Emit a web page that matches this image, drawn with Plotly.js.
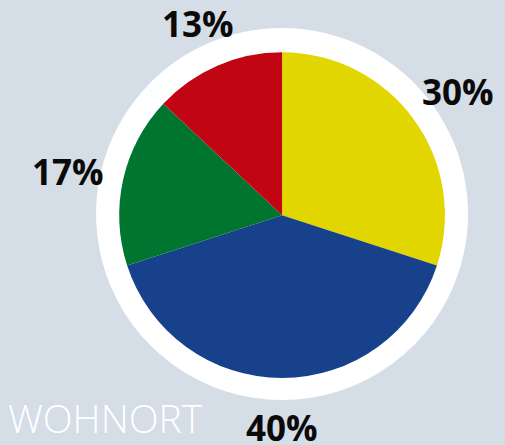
<!DOCTYPE html>
<html>
<head>
<meta charset="utf-8">
<script src="https://cdn.plot.ly/plotly-3.0.1.min.js"></script>
<style>
  html, body { margin: 0; padding: 0; background: #d5dde6; }
  #chart { width: 505px; height: 445px; }
</style>
</head>
<body>
<div id="chart"></div>
<script>
// shares by place of residence, clockwise from 12 o'clock
var categories = ['Gelb', 'Blau', 'Grün', 'Rot']
var shares = [30, 40, 17, 13]
var colors = ['#e2d600', '#17428b', '#00752f', '#c10512']
var chartTitle = 'WOHNORT'

var W = 505, H = 445
var ringDomain = { x: [0.190, 0.927], y: [0.101, 0.937] }
var pieDomain = { x: [0.236, 0.881], y: [0.148, 0.885] }

// white ring behind the pie
var ring = {
  type: 'pie',
  labels: categories,
  values: shares,
  sort: false,
  direction: 'clockwise',
  marker: { colors: categories.map(() => '#ffffff'), line: { width: 0 } },
  textinfo: 'none',
  hoverinfo: 'skip',
  showlegend: false,
  domain: ringDomain
}

var pie = {
  type: 'pie',
  labels: categories,
  values: shares,
  sort: false,
  direction: 'clockwise',
  marker: { colors: colors, line: { width: 0 } },
  textinfo: 'none',
  hoverinfo: 'label+percent',
  showlegend: false,
  domain: pieDomain
}

// percent labels sit outside the white ring, on each slice's middle angle
var cx = (pieDomain.x[0] + pieDomain.x[1]) / 2
var cy = (pieDomain.y[0] + pieDomain.y[1]) / 2
var total = shares.reduce((a, b) => a + b, 0)
var acc = 0
var labelNotes = shares.map(function (v) {
  var mid = (acc + v / 2) / total * 2 * Math.PI
  acc += v
  var r = 208 + 12 * Math.abs(Math.sin(mid))
  return {
    text: v + '%',
    xref: 'paper', yref: 'paper',
    x: cx + r * Math.sin(mid) / W,
    y: cy + r * Math.cos(mid) / H,
    yshift: -4,
    xanchor: 'center', yanchor: 'middle',
    showarrow: false,
    font: { family: 'Open Sans', size: 35, color: '#0a0a0a', weight: 700 }
  }
})

var layout = {
  width: W,
  height: H,
  margin: { l: 0, r: 0, t: 0, b: 0 },
  paper_bgcolor: '#d5dde6',
  plot_bgcolor: '#d5dde6',
  showlegend: false,
  annotations: labelNotes.concat([{
    text: chartTitle,
    xref: 'paper', yref: 'paper',
    x: 0.012, y: 0.062,
    xanchor: 'left', yanchor: 'middle',
    showarrow: false,
    font: { family: 'Open Sans', size: 39, color: '#ffffff', weight: 300 }
  }])
}

Plotly.newPlot('chart', [ring, pie], layout, { displayModeBar: false })
</script>
</body>
</html>
